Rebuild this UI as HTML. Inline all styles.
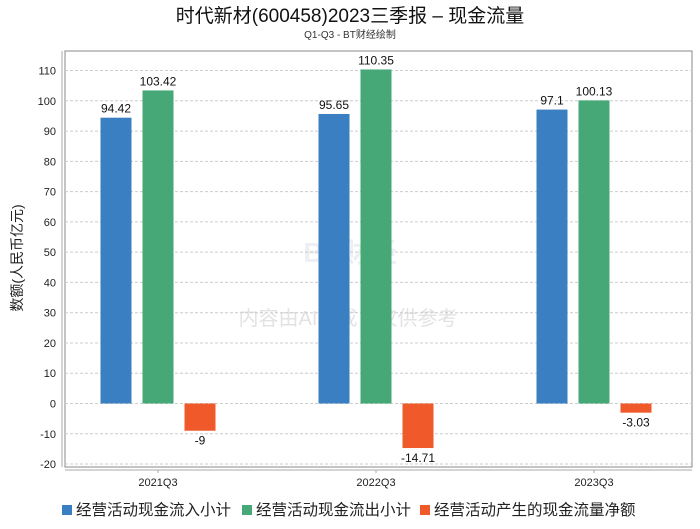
<!DOCTYPE html>
<html><head><meta charset="utf-8">
<style>
body{margin:0;background:#fff;font-family:"Liberation Sans","Noto Sans CJK SC",sans-serif;}
svg text{font-family:"Liberation Sans","Noto Sans CJK SC",sans-serif;}
</style></head>
<body>
<svg id="chart" width="700" height="524" xmlns="http://www.w3.org/2000/svg">
<text x="350" y="22" text-anchor="middle" font-size="19" fill="#111">时代新材(600458)2023三季报 – 现金流量</text>
<text x="350" y="38" text-anchor="middle" font-size="10" fill="#333">Q1-Q3 - BT财经绘制</text>
<text x="350" y="262" text-anchor="middle" font-size="28" fill="#eceff3" font-weight="bold">BT财经</text>
<text x="348" y="325" text-anchor="middle" font-size="20" fill="#e2e2e2">内容由AI生成，仅供参考</text>
<text transform="translate(22,258) rotate(-90)" text-anchor="middle" font-size="14" fill="#222">数额(人民币亿元)</text>
<g id="grid"></g>
<g id="bars"></g>
<g id="legend"></g>
</svg>
<script>
const categories=["2021Q3","2022Q3","2023Q3"];
const seriesNames=["经营活动现金流入小计","经营活动现金流出小计","经营活动产生的现金流量净额"];
const inflow=[94.42,95.65,97.1];
const outflow=[103.42,110.35,100.13];
const net=[-9,-14.71,-3.03];
const labels=[["94.42","95.65","97.1"],["103.42","110.35","100.13"],["-9","-14.71","-3.03"]];
const yTicks=[110,100,90,80,70,60,50,40,30,20,10,0,-10,-20];
const colors=["#3a7fc1","#45a876","#f05a2a"];
const NS="http://www.w3.org/2000/svg";
const svg=document.getElementById('chart');
const L=65,R=692,T=51,B=467;
function y(v){return 403.5-v*3.027;}
function xc(i){return 158+i*218;}
function mk(tag,attrs,parent){const e=document.createElementNS(NS,tag);for(const k in attrs)e.setAttribute(k,attrs[k]);parent.appendChild(e);return e;}
const grid=document.getElementById('grid');
const frame=mk('rect',{x:L,y:T,width:R-L,height:B-T,fill:'none',stroke:'#888'},grid);


const ya=mk('line',{x1:62,y1:T,x2:62,y2:B,stroke:'#aaa'},grid);


const xa=mk('line',{x1:L,y1:470,x2:R,y2:470,stroke:'#aaa'},grid);


yTicks.forEach(v=>{
 const g=mk('line',{x1:L,y1:y(v),x2:R,y2:y(v),stroke:'#ccc','stroke-dasharray':'3,2'},grid);
 
 
 const t=mk('text',{x:56,y:y(v)+4,'text-anchor':'end','font-size':11,fill:'#222'},grid);
 t.textContent=v;
 
 
});
const bars=document.getElementById('bars');
const series=[inflow,outflow,net];
categories.forEach((c,i)=>{
 const tk=mk('line',{x1:xc(i),y1:470,x2:xc(i),y2:473,stroke:'#aaa'},bars);
 
 
 const t=mk('text',{x:xc(i),y:486,'text-anchor':'middle','font-size':11,fill:'#222'},bars);
 t.textContent=c;
 
 
 series.forEach((s,k)=>{
  const v=s[i];const cx=xc(i)+(k-1)*42;
  const y0=Math.min(y(v),y(0)),h=Math.abs(y(v)-y(0));
  const r=mk('rect',{x:cx-15.5,y:y0,width:31,height:h,fill:colors[k]},bars);
  
  
  const lt=mk('text',{x:cx,y:v>=0?y(v)-5:y(v)+14,'text-anchor':'middle','font-size':12,fill:'#111'},bars);
  lt.textContent=labels[k][i];
  
  
 });
});
const lg=document.getElementById('legend');
const lx=[62,242,420];
seriesNames.forEach((n,k)=>{
 const r=mk('rect',{x:lx[k],y:505,width:10,height:10,fill:colors[k]},lg);
 
 
 const t=mk('text',{x:lx[k]+14,y:515,'font-size':15.5,fill:'#222'},lg);
 t.textContent=n;
 
 
});
</script>
</body></html>
